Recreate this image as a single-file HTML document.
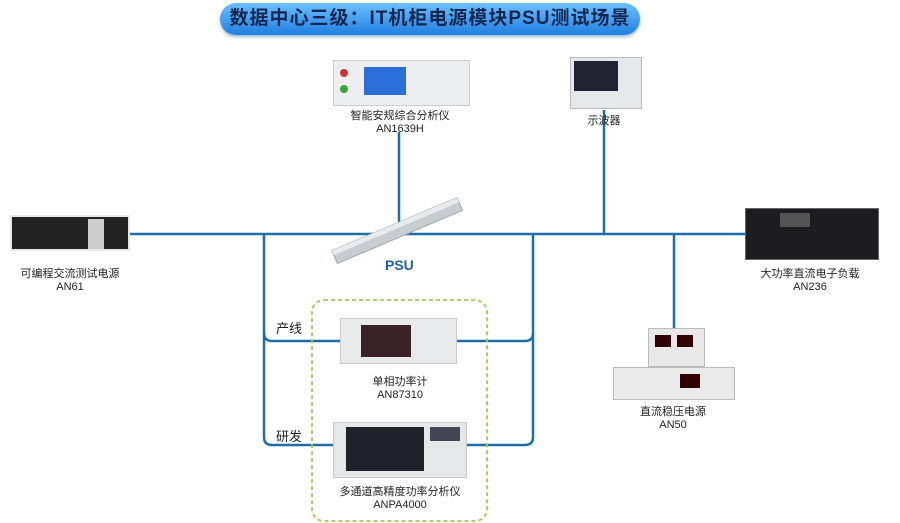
<!DOCTYPE html>
<html><head><meta charset="utf-8"><style>
body{margin:0;width:900px;height:523px;background:#fff;position:relative;overflow:hidden;font-family:"Liberation Sans","Noto Sans CJK SC",sans-serif}
.t{position:absolute;font-size:11px;color:#222;text-align:center;line-height:13px;white-space:nowrap}
.dev{position:absolute}
</style></head><body>
<div style="position:absolute;left:220px;top:3px;width:420px;height:32px;border-radius:16px;background:linear-gradient(#6cc0ff,#1f7fe0);box-shadow:0 2px 3px #9bc;text-align:center;line-height:32px;font-size:19px;font-weight:bold;color:#13264f;letter-spacing:1px">数据中心三级：IT机柜电源模块PSU测试场景</div>
<svg width="900" height="523" style="position:absolute;left:0;top:0" fill="none">
<g stroke="#1f6ea8" stroke-width="2.5">
<path d="M130 234H745"/>
<path d="M399 132V234"/>
<path d="M604 110V234"/>
<path d="M674 234V328"/>
<path d="M264 234V437q0 8 8 8H333"/>
<path d="M264 333q0 8 8 8H340"/>
<path d="M533 234V437q0 8-8 8H465"/>
<path d="M533 333q0 8-8 8H455"/>
</g>
<rect x="312" y="300" width="175" height="221" rx="12" stroke="#9ccc55" stroke-width="1.8" stroke-dasharray="4 3"/>
<g transform="translate(335,258) rotate(-23)">
<rect x="0" y="-8" width="136" height="14" fill="#c8ccd0" stroke="#9aa" />
<rect x="0" y="-8" width="136" height="5" fill="#e8eaec"/>
</g>
</svg>
<div class="dev" style="left:333px;top:60px;width:135px;height:44px;background:#eceef0;border:1px solid #ccc"><div style="position:absolute;left:30px;top:6px;width:42px;height:28px;background:#2a6ed8"></div><div style="position:absolute;left:6px;top:8px;width:8px;height:8px;border-radius:50%;background:#c33"></div><div style="position:absolute;left:6px;top:24px;width:8px;height:8px;border-radius:50%;background:#3a3"></div></div>
<div class="t" style="left:340px;top:110px;width:120px">智能安规综合分析仪<br>AN1639H</div>
<div class="dev" style="left:570px;top:57px;width:70px;height:50px;background:#e6e7e9;border:1px solid #bbb"><div style="position:absolute;left:3px;top:3px;width:44px;height:30px;background:#223"></div></div>
<div class="t" style="left:574px;top:115px;width:60px">示波器</div>
<div class="dev" style="left:10px;top:215px;width:120px;height:36px;background:#222;border:2px solid #e8e8e8;box-sizing:border-box"><div style="position:absolute;left:76px;top:2px;width:16px;height:30px;background:#ccc"></div></div>
<div class="t" style="left:0px;top:268px;width:140px">可编程交流测试电源<br>AN61</div>
<div style="position:absolute;left:385px;top:257px;font-size:14px;font-weight:bold;color:#1f5fa8">PSU</div>
<div class="dev" style="left:745px;top:208px;width:132px;height:50px;background:#1d1d1f;border:1px solid #666"><div style="position:absolute;left:34px;top:4px;width:30px;height:14px;background:#555"></div></div>
<div class="t" style="left:740px;top:268px;width:140px">大功率直流电子负载<br>AN236</div>
<div style="position:absolute;left:276px;top:318px;font-size:13px;color:#222">产线</div>
<div class="dev" style="left:340px;top:318px;width:115px;height:44px;background:#e9eaec;border:1px solid #ccc"><div style="position:absolute;left:20px;top:6px;width:50px;height:32px;background:#3a2226"></div></div>
<div class="t" style="left:340px;top:376px;width:120px">单相功率计<br>AN87310</div>
<div style="position:absolute;left:276px;top:426px;font-size:13px;color:#222">研发</div>
<div class="dev" style="left:333px;top:422px;width:132px;height:54px;background:#e6e7e9;border:1px solid #ccc"><div style="position:absolute;left:12px;top:4px;width:78px;height:44px;background:#1f2228"></div><div style="position:absolute;left:96px;top:4px;width:30px;height:14px;background:#445"></div></div>
<div class="t" style="left:330px;top:486px;width:140px">多通道高精度功率分析仪<br>ANPA4000</div>
<div class="dev" style="left:648px;top:328px;width:55px;height:37px;background:#e8e8e8;border:1px solid #bbb"><div style="position:absolute;left:6px;top:6px;width:16px;height:12px;background:#300"></div><div style="position:absolute;left:28px;top:6px;width:16px;height:12px;background:#300"></div></div>
<div class="dev" style="left:613px;top:367px;width:120px;height:31px;background:#eaeaea;border:1px solid #bbb"><div style="position:absolute;left:66px;top:6px;width:20px;height:14px;background:#300"></div></div>
<div class="t" style="left:613px;top:406px;width:120px">直流稳压电源<br>AN50</div>
</body></html>
